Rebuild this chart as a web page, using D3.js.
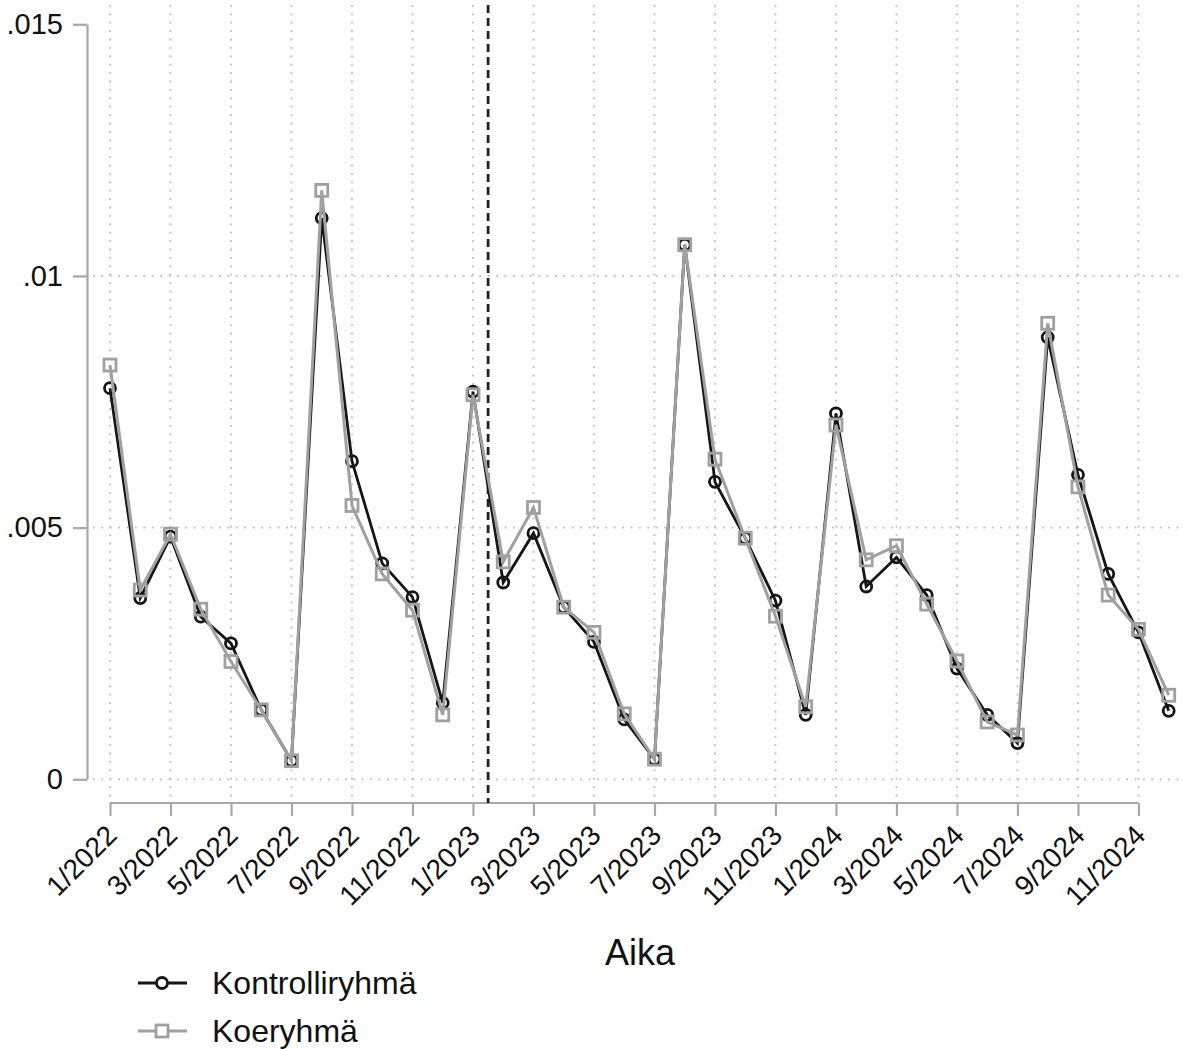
<!DOCTYPE html>
<html>
<head>
<meta charset="utf-8">
<script src="https://cdn.jsdelivr.net/npm/d3@7"></script>
<style>
  body { margin: 0; background: #fff; }
  text { font-family: "Liberation Sans", Arial, sans-serif; fill: #111; }
</style>
</head>
<body>
<svg id="chart"></svg>
<script>
// months 1/2022 .. 12/2024
var months = [];
for (var yr = 2022; yr <= 2024; yr++) {
  for (var m = 1; m <= 12; m++) months.push(m + "/" + yr);
}

var kontrolli = [0.00777, 0.00360, 0.00482, 0.00323, 0.00270, 0.00138, 0.00037, 0.01115, 0.00632, 0.00429, 0.00362, 0.00152,
                 0.00770, 0.00391, 0.00489, 0.00342, 0.00273, 0.00119, 0.00040, 0.01062, 0.00591, 0.00479, 0.00355, 0.00128,
                 0.00727, 0.00383, 0.00441, 0.00366, 0.00220, 0.00128, 0.00072, 0.00878, 0.00605, 0.00408, 0.00292, 0.00136];

var koe = [0.00823, 0.00376, 0.00487, 0.00338, 0.00234, 0.00138, 0.00037, 0.01170, 0.00544, 0.00408, 0.00336, 0.00128,
           0.00764, 0.00432, 0.00540, 0.00342, 0.00292, 0.00130, 0.00040, 0.01062, 0.00636, 0.00479, 0.00324, 0.00144,
           0.00704, 0.00436, 0.00464, 0.00348, 0.00235, 0.00114, 0.00088, 0.00906, 0.00581, 0.00366, 0.00298, 0.00167];

var yTicks = [0, 0.005, 0.01, 0.015];
var yTickLabels = ["0", ".005", ".01", ".015"];
var xTicks = d3.range(0, 35, 2);   // every second month, last is 11/2024
var cutoff = 12.5;                 // between 1/2023 and 2/2023

var svgWidth = 1183, svgHeight = 1049;
var plotTop = 5, plotBottom = 797, axisY = 803, axisX = 87;

var svg = d3.select('#chart')
    .attr("width", svgWidth)
    .attr("height", svgHeight);

var x = d3.scaleLinear().domain([0, 35]).range([110, 1168.7]);
var y = d3.scaleLinear().domain([0, 0.015]).range([779.3, 24.3]);

var axisColor = "#a8a8a8", gridColor = "#bdbdbd";
var dark = "#151515", grey = "#a0a0a0";

// grid
svg.append("g").selectAll("line")
  .data(xTicks)
  .enter()
  .append("line")
  .attr("x1", function(d) { return x(d); })
  .attr("x2", function(d) { return x(d); })
  .attr("y1", plotTop)
  .attr("y2", plotBottom)
  .style("stroke", gridColor)
  .style("stroke-width", 1.8)
  .style("stroke-dasharray", "1.8,6.6");

svg.append("g").selectAll("line")
  .data(yTicks.slice(0, 3))
  .enter()
  .append("line")
  .attr("x1", 93)
  .attr("x2", svgWidth)
  .attr("y1", function(d) { return y(d); })
  .attr("y2", function(d) { return y(d); })
  .style("stroke", gridColor)
  .style("stroke-width", 1.8)
  .style("stroke-dasharray", "1.8,6.6");

// y axis
var yAxis = svg.append("g")
  .attr("transform", "translate(" + axisX + ",0)")
  .call(d3.axisLeft(y)
    .tickValues(yTicks)
    .tickSize(14)
    .tickSizeOuter(0)
    .tickPadding(10)
    .tickFormat(function(d, i) { return yTickLabels[i]; }));
yAxis.select(".domain").style("stroke", axisColor).style("stroke-width", 2.2);
yAxis.selectAll(".tick line").style("stroke", axisColor).style("stroke-width", 2.2);
yAxis.selectAll(".tick text").style("font-size", "29px").style("fill", "#111")
  .style("font-family", "'Liberation Sans', Arial, sans-serif");

// x axis
var xAxis = svg.append("g")
  .attr("transform", "translate(0," + axisY + ")")
  .call(d3.axisBottom(x)
    .tickValues(xTicks)
    .tickSize(13)
    .tickSizeOuter(0)
    .tickFormat(function(d) { return months[d]; }));
xAxis.select(".domain").remove();
xAxis.append("line")
  .attr("x1", x(0)).attr("x2", x(34))
  .style("stroke", axisColor).style("stroke-width", 2.2);
xAxis.selectAll(".tick line").style("stroke", axisColor).style("stroke-width", 2.2);
xAxis.selectAll(".tick text")
  .attr("y", 0).attr("dy", 0)
  .attr("transform", "translate(8,34) rotate(-45)")
  .style("text-anchor", "end")
  .style("font-size", "28px").style("fill", "#111")
  .style("font-family", "'Liberation Sans', Arial, sans-serif");

// cutoff line
svg.append("line")
  .attr("x1", x(cutoff)).attr("x2", x(cutoff))
  .attr("y1", plotTop).attr("y2", axisY)
  .style("stroke", "#222")
  .style("stroke-width", 2.8)
  .style("stroke-dasharray", "8,5");

var line = d3.line()
  .x(function(d, i) { return x(i); })
  .y(function(d) { return y(d); });

// Kontrolliryhmä
svg.append("path")
  .datum(kontrolli)
  .attr("d", line)
  .style("fill", "none")
  .style("stroke", dark)
  .style("stroke-width", 2.8);

svg.append("g").selectAll("circle")
  .data(kontrolli)
  .enter()
  .append("circle")
  .attr("cx", function(d, i) { return x(i); })
  .attr("cy", function(d) { return y(d); })
  .attr("r", 5.5)
  .style("fill", "none")
  .style("stroke", dark)
  .style("stroke-width", 2.8);

// Koeryhmä
svg.append("path")
  .datum(koe)
  .attr("d", line)
  .style("fill", "none")
  .style("stroke", grey)
  .style("stroke-width", 3);

svg.append("g").selectAll("rect")
  .data(koe)
  .enter()
  .append("rect")
  .attr("x", function(d, i) { return x(i) - 6; })
  .attr("y", function(d) { return y(d) - 6; })
  .attr("width", 12)
  .attr("height", 12)
  .style("fill", "none")
  .style("stroke", grey)
  .style("stroke-width", 2.8);

// x title
svg.append("text")
  .attr("x", 640)
  .attr("y", 965)
  .attr("text-anchor", "middle")
  .style("font-size", "36px")
  .text("Aika");

// legend
var legend = svg.append("g");
legend.append("line").attr("x1", 138).attr("x2", 187).attr("y1", 983).attr("y2", 983)
  .style("stroke", dark).style("stroke-width", 2.8);
legend.append("circle").attr("cx", 162).attr("cy", 983).attr("r", 5.5)
  .style("fill", "#fff").style("stroke", dark).style("stroke-width", 2.8);
legend.append("text").attr("x", 212).attr("y", 994).style("font-size", "32px").text("Kontrolliryhmä");

legend.append("line").attr("x1", 138).attr("x2", 187).attr("y1", 1031).attr("y2", 1031)
  .style("stroke", grey).style("stroke-width", 3);
legend.append("rect").attr("x", 156).attr("y", 1025).attr("width", 12).attr("height", 12)
  .style("fill", "#fff").style("stroke", grey).style("stroke-width", 2.8);
legend.append("text").attr("x", 212).attr("y", 1042).style("font-size", "32px").text("Koeryhmä");
</script>
</body>
</html>
